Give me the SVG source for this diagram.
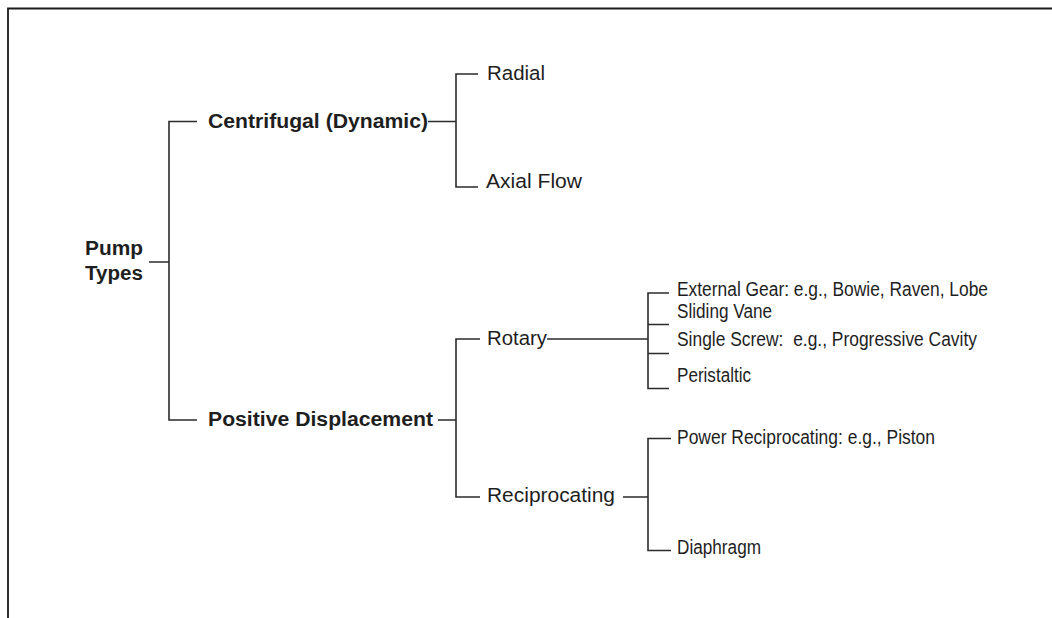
<svg xmlns="http://www.w3.org/2000/svg" width="1052" height="618" viewBox="0 0 1052 618">
<style>
.ln{stroke:#2b2b2b;stroke-width:1.6;fill:none}
.fr{stroke:#1a1a1a;stroke-width:1.8;fill:none}
.b{font-family:"Liberation Sans",Arial,sans-serif;font-weight:bold;font-size:20px;fill:#1e1e1e}
.r{font-family:"Liberation Sans",Arial,sans-serif;font-size:20.5px;fill:#1e1e1e}
.s{font-family:"Liberation Sans",Arial,sans-serif;font-size:20px;fill:#1e1e1e}
</style>
<rect width="1052" height="618" fill="#ffffff"/>
<g id="frame">
<path class="fr" d="M8,618 V8.5 H1052"/>
</g>
<g id="connectors">
<path class="ln" d="M149,262 H169 M197,121.5 H169 V420 H197"/>
<path class="ln" d="M428,121.5 H456 M478,74 H456 V187 H478"/>
<path class="ln" d="M438,420 H456 M480,339 H456 V497 H480"/>
<path class="ln" d="M547,339 H648 M669,293 H648 V388.5 H669 M648,324.5 H669 M648,353.5 H669"/>
<path class="ln" d="M623,497 H648 M671,438.5 H648 V550.5 H671"/>
</g>
<g id="pump-types"><text class="b" x="85" y="255" textLength="58" lengthAdjust="spacingAndGlyphs">Pump</text><text class="b" x="85" y="280" textLength="58" lengthAdjust="spacingAndGlyphs">Types</text></g>
<g id="centrifugal"><text class="b" x="208" y="127.5" textLength="220" lengthAdjust="spacingAndGlyphs">Centrifugal (Dynamic)</text></g>
<g id="positive-displacement"><text class="b" x="208" y="426" textLength="225" lengthAdjust="spacingAndGlyphs">Positive Displacement</text></g>
<g id="radial"><text class="r" x="487" y="79.5" textLength="58" lengthAdjust="spacingAndGlyphs">Radial</text></g>
<g id="axial-flow"><text class="r" x="486" y="188" textLength="96" lengthAdjust="spacingAndGlyphs">Axial Flow</text></g>
<g id="rotary"><text class="r" x="487" y="345" textLength="60" lengthAdjust="spacingAndGlyphs">Rotary</text></g>
<g id="reciprocating"><text class="r" x="487" y="502" textLength="128" lengthAdjust="spacingAndGlyphs">Reciprocating</text></g>
<g id="external-gear"><text class="s" x="677" y="296" textLength="311" lengthAdjust="spacingAndGlyphs">External Gear: e.g., Bowie, Raven, Lobe</text></g>
<g id="sliding-vane"><text class="s" x="677" y="318" textLength="95" lengthAdjust="spacingAndGlyphs">Sliding Vane</text></g>
<g id="single-screw"><text class="s" x="677" y="346" textLength="300" lengthAdjust="spacingAndGlyphs" xml:space="preserve">Single Screw:  e.g., Progressive Cavity</text></g>
<g id="peristaltic"><text class="s" x="677" y="381.5" textLength="74" lengthAdjust="spacingAndGlyphs">Peristaltic</text></g>
<g id="power-reciprocating"><text class="s" x="677" y="443.5" textLength="258" lengthAdjust="spacingAndGlyphs">Power Reciprocating: e.g., Piston</text></g>
<g id="diaphragm"><text class="s" x="677" y="553.5" textLength="84" lengthAdjust="spacingAndGlyphs">Diaphragm</text></g>
</svg>
